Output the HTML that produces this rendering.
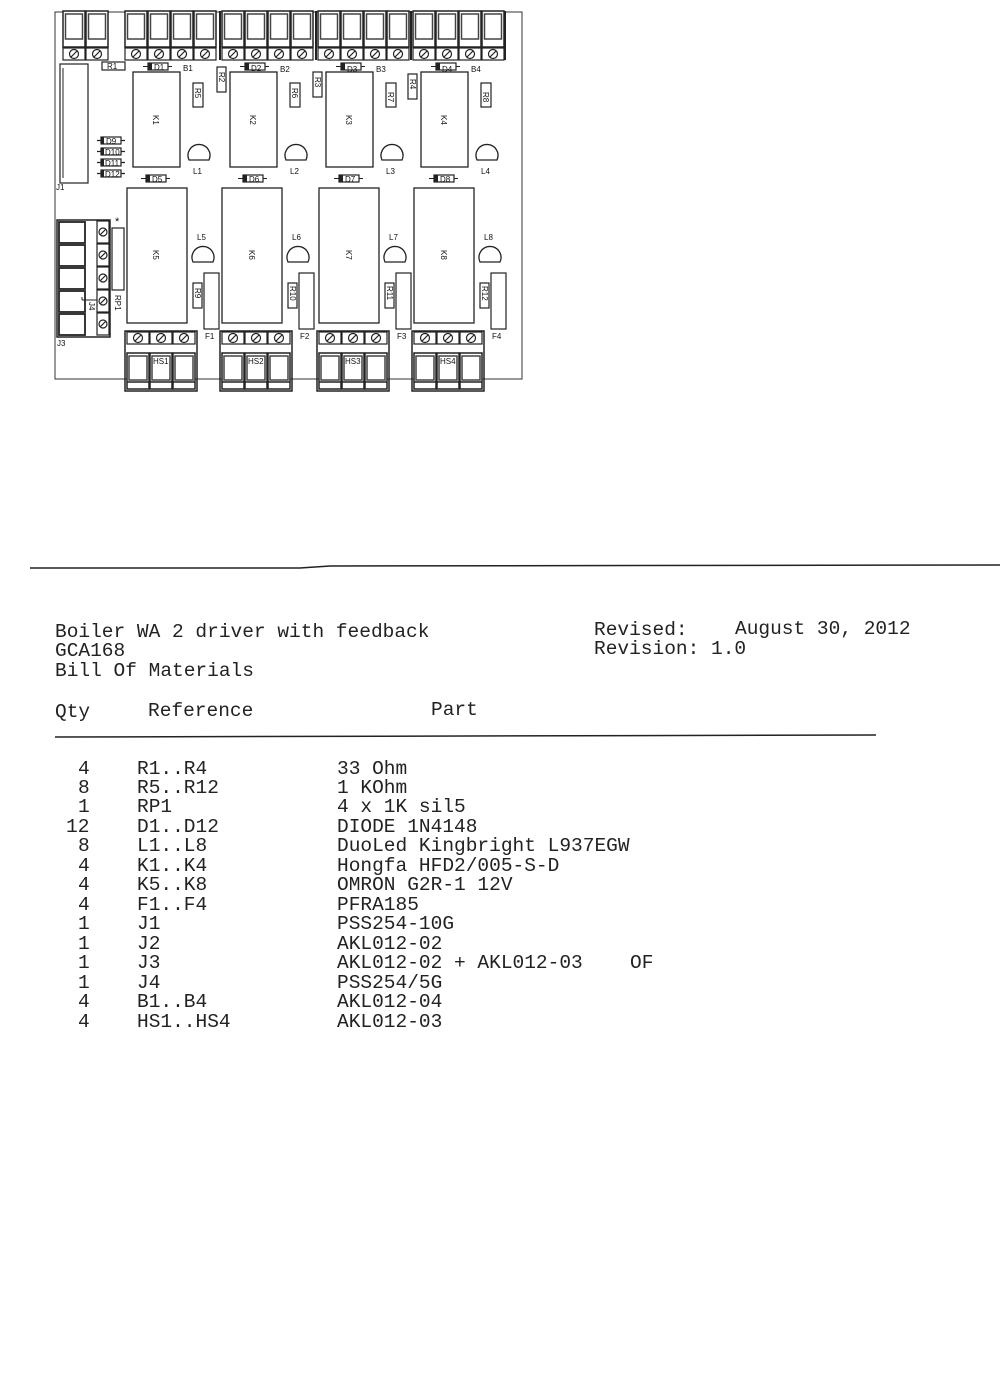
<!DOCTYPE html>
<html><head><meta charset="utf-8"><style>
html,body{margin:0;padding:0;background:#fff}
svg{display:block}
.t{font-family:"Liberation Mono",monospace;font-size:19.5px;fill:#222}
.s{font-family:"Liberation Sans",sans-serif;font-size:8px;fill:#111}
</style></head><body>
<svg width="1000" height="1375" viewBox="0 0 1000 1375" xmlns="http://www.w3.org/2000/svg">
<defs>
<g id="blk"><rect x="0" y="0" width="22" height="36" fill="#fff" stroke="#222" stroke-width="1.5"/><rect x="2.5" y="3" width="17" height="25" fill="#fff" stroke="#444" stroke-width="1.5"/><rect x="0" y="37" width="22" height="12" fill="#fff" stroke="#222" stroke-width="1.2"/><circle cx="11" cy="43" r="4.5" fill="none" stroke="#222" stroke-width="1.2"/><line x1="8" y1="46" x2="14" y2="40" stroke="#222" stroke-width="1.2"/></g>
<g id="scr"><rect x="0" y="0" width="22" height="12" fill="#fff" stroke="#222" stroke-width="1.2"/><circle cx="11" cy="6" r="4.5" fill="none" stroke="#222" stroke-width="1.2"/><line x1="8" y1="9" x2="14" y2="3" stroke="#222" stroke-width="1.2"/></g>
<g id="hsb"><rect x="0" y="0" width="22" height="36" fill="#fff" stroke="#222" stroke-width="1.5"/><rect x="2" y="3" width="18" height="24" fill="#fff" stroke="#444" stroke-width="1.5"/><line x1="0" y1="29" x2="22" y2="29" stroke="#222" stroke-width="1.5"/></g>
<g id="top">
<rect x="133" y="72" width="47" height="95" fill="#fff" stroke="#222" stroke-width="1.3"/>
<rect x="148" y="63" width="20" height="7" fill="#fff" stroke="#222" stroke-width="1.2"/><rect x="148" y="63" width="4" height="7" fill="#222"/><line x1="143" y1="66.5" x2="148" y2="66.5" stroke="#222"/><line x1="168" y1="66.5" x2="172" y2="66.5" stroke="#222"/>
<rect x="193" y="83" width="10" height="24" fill="#fff" stroke="#222" stroke-width="1.2"/>
<path d="M189,160 A11,11 0 1 1 209,160 Z" fill="#fff" stroke="#222" stroke-width="1.3"/>
<rect x="146" y="175" width="20" height="7" fill="#fff" stroke="#222" stroke-width="1.2"/><rect x="146" y="175" width="4" height="7" fill="#222"/><line x1="141" y1="178.5" x2="146" y2="178.5" stroke="#222"/><line x1="166" y1="178.5" x2="170" y2="178.5" stroke="#222"/>
</g>
<g id="bot">
<rect x="127" y="188" width="60" height="135" fill="#fff" stroke="#222" stroke-width="1.3"/>
<path d="M193,262 A11,11 0 1 1 213,262 Z" fill="#fff" stroke="#222" stroke-width="1.3"/>
<rect x="204" y="273" width="15" height="56" fill="#fff" stroke="#222" stroke-width="1.2"/>
<rect x="193" y="283" width="9" height="25" fill="#fff" stroke="#222" stroke-width="1.2"/>
<rect x="125" y="331" width="72" height="60" fill="none" stroke="#222" stroke-width="1.5"/>
<use href="#scr" x="127" y="332"/><use href="#scr" x="150" y="332"/><use href="#scr" x="173" y="332"/>
<use href="#hsb" x="127" y="353"/><use href="#hsb" x="150" y="353"/><use href="#hsb" x="173" y="353"/>
</g>
<g id="js"><rect x="0" y="0" width="12" height="22" fill="#fff" stroke="#222" stroke-width="1.2"/><circle cx="6" cy="11" r="4" fill="none" stroke="#222" stroke-width="1.2"/><line x1="3.5" y1="13.5" x2="8.5" y2="8.5" stroke="#222" stroke-width="1.2"/></g>
</defs>
<rect x="55" y="12" width="467" height="367" fill="none" stroke="#333" stroke-width="1"/>
<g>
<use href="#blk" x="63" y="11"/><use href="#blk" x="86" y="11"/>
<use href="#blk" x="125" y="11"/><use href="#blk" x="148" y="11"/><use href="#blk" x="171" y="11"/><use href="#blk" x="194" y="11"/>
<use href="#blk" x="222" y="11"/><use href="#blk" x="245" y="11"/><use href="#blk" x="268" y="11"/><use href="#blk" x="291" y="11"/>
<use href="#blk" x="318" y="11"/><use href="#blk" x="341" y="11"/><use href="#blk" x="364" y="11"/><use href="#blk" x="387" y="11"/>
<use href="#blk" x="413" y="11"/><use href="#blk" x="436" y="11"/><use href="#blk" x="459" y="11"/><use href="#blk" x="482" y="11"/>
<line x1="220" y1="11" x2="220" y2="60" stroke="#222" stroke-width="2"/><line x1="316" y1="11" x2="316" y2="60" stroke="#222" stroke-width="2"/><line x1="411" y1="11" x2="411" y2="60" stroke="#222" stroke-width="2"/><line x1="505" y1="11" x2="505" y2="60" stroke="#222" stroke-width="2"/>
</g>
<use href="#top"/><use href="#top" x="97"/><use href="#top" x="193"/><use href="#top" x="288"/>
<use href="#bot"/><use href="#bot" x="95"/><use href="#bot" x="192"/><use href="#bot" x="287"/>
<rect x="102" y="62" width="23" height="8" fill="#fff" stroke="#222" stroke-width="1.2"/>
<rect x="217" y="67" width="9" height="25" fill="#fff" stroke="#222" stroke-width="1.2"/>
<rect x="313" y="72" width="9" height="25" fill="#fff" stroke="#222" stroke-width="1.2"/>
<rect x="408" y="74" width="9" height="25" fill="#fff" stroke="#222" stroke-width="1.2"/>
<rect x="60" y="64" width="28" height="119" fill="#fff" stroke="#222" stroke-width="1.2"/><line x1="63" y1="68" x2="63" y2="178" stroke="#222"/>
<g stroke="#222" stroke-width="1.2">
<line x1="97" y1="140.5" x2="125" y2="140.5"/><line x1="97" y1="151.5" x2="125" y2="151.5"/><line x1="97" y1="162.5" x2="125" y2="162.5"/><line x1="97" y1="173.5" x2="125" y2="173.5"/>
</g>
<g fill="#fff" stroke="#222" stroke-width="1.2"><rect x="101" y="137" width="20" height="7"/><rect x="101" y="148" width="20" height="7"/><rect x="101" y="159" width="20" height="7"/><rect x="101" y="170" width="20" height="7"/></g>
<g fill="#222"><rect x="101" y="137" width="3" height="7"/><rect x="101" y="148" width="3" height="7"/><rect x="101" y="159" width="3" height="7"/><rect x="101" y="170" width="3" height="7"/></g>
<rect x="57" y="220" width="53" height="117" fill="none" stroke="#222" stroke-width="1.5"/>
<g fill="#fff" stroke="#222" stroke-width="1.8">
<rect x="59" y="222" width="26" height="21"/><rect x="59" y="245" width="26" height="21"/><rect x="59" y="268" width="26" height="21"/><rect x="59" y="291" width="26" height="21"/><rect x="59" y="314" width="26" height="21"/>
</g>
<use href="#js" x="97" y="221"/><use href="#js" x="97" y="244"/><use href="#js" x="97" y="267"/><use href="#js" x="97" y="290"/><use href="#js" x="97" y="313"/>
<rect x="112" y="228" width="12" height="62" fill="#fff" stroke="#222" stroke-width="1.2"/>
<line x1="82" y1="297" x2="82" y2="300" stroke="#222"/><line x1="82" y1="300" x2="97" y2="300" stroke="#222"/>
<g class="s">
<text x="107" y="69">R1</text><text x="154" y="70">D1</text><text x="183" y="71">B1</text><text x="251" y="71">D2</text><text x="280" y="72">B2</text><text x="347" y="72">D3</text><text x="376" y="72">B3</text><text x="442" y="72">D4</text><text x="471" y="72">B4</text>
<text x="152" y="182">D5</text><text x="249" y="182">D6</text><text x="345" y="182">D7</text><text x="440" y="182">D8</text>
<text x="106" y="144">D9</text><text x="105" y="155">D10</text><text x="105" y="166">D11</text><text x="105" y="177">D12</text>
<text x="193" y="174">L1</text><text x="290" y="174">L2</text><text x="386" y="174">L3</text><text x="481" y="174">L4</text>
<text x="197" y="240">L5</text><text x="292" y="240">L6</text><text x="389" y="240">L7</text><text x="484" y="240">L8</text>
<text x="205" y="339">F1</text><text x="300" y="339">F2</text><text x="397" y="339">F3</text><text x="492" y="339">F4</text>
<text x="153" y="364">HS1</text><text x="248" y="364">HS2</text><text x="345" y="364">HS3</text><text x="440" y="364">HS4</text>
<text x="56" y="190">J1</text><text x="57" y="346">J3</text><text x="115" y="225" font-size="11">*</text>
<text transform="translate(153,115) rotate(90)">K1</text><text transform="translate(250,115) rotate(90)">K2</text><text transform="translate(346,115) rotate(90)">K3</text><text transform="translate(441,115) rotate(90)">K4</text>
<text transform="translate(153,250) rotate(90)">K5</text><text transform="translate(249,250) rotate(90)">K6</text><text transform="translate(346,250) rotate(90)">K7</text><text transform="translate(441,250) rotate(90)">K8</text>
<text transform="translate(195,88) rotate(90)">R5</text><text transform="translate(292,88) rotate(90)">R6</text><text transform="translate(388,92) rotate(90)">R7</text><text transform="translate(483,92) rotate(90)">R8</text>
<text transform="translate(219,72) rotate(90)">R2</text><text transform="translate(315,77) rotate(90)">R3</text><text transform="translate(410,79) rotate(90)">R4</text>
<text transform="translate(195,288) rotate(90)">R9</text><text transform="translate(290,286) rotate(90)">R10</text><text transform="translate(387,286) rotate(90)">R11</text><text transform="translate(482,286) rotate(90)">R12</text>
<text transform="translate(115,295) rotate(90)">RP1</text><text transform="translate(89,302) rotate(90)">J4</text>
</g>
<path d="M30,568 L300,568 L330,566 L1000,565" fill="none" stroke="#222" stroke-width="1.5"/>
<g class="t">
<text x="55" y="637">Boiler WA 2 driver with feedback</text>
<text x="55" y="656">GCA168</text>
<text x="55" y="676">Bill Of Materials</text>
<text x="594" y="635">Revised:</text><text x="735" y="634">August 30, 2012</text>
<text x="594" y="654">Revision: 1.0</text>
<text x="55" y="717">Qty</text><text x="148" y="716">Reference</text><text x="431" y="715">Part</text>
</g>
<line x1="55" y1="737" x2="876" y2="735" stroke="#222" stroke-width="1.5"/>
<g class="t">
<text x="78" y="774">4</text><text x="137" y="774">R1..R4</text><text x="337" y="774">33 Ohm</text>
<text x="78" y="793">8</text><text x="137" y="793">R5..R12</text><text x="337" y="793">1 KOhm</text>
<text x="78" y="812">1</text><text x="137" y="812">RP1</text><text x="337" y="812">4 x 1K sil5</text>
<text x="66" y="832">12</text><text x="137" y="832">D1..D12</text><text x="337" y="832">DIODE 1N4148</text>
<text x="78" y="851">8</text><text x="137" y="851">L1..L8</text><text x="337" y="851">DuoLed Kingbright L937EGW</text>
<text x="78" y="871">4</text><text x="137" y="871">K1..K4</text><text x="337" y="871">Hongfa HFD2/005-S-D</text>
<text x="78" y="890">4</text><text x="137" y="890">K5..K8</text><text x="337" y="890">OMRON G2R-1 12V</text>
<text x="78" y="910">4</text><text x="137" y="910">F1..F4</text><text x="337" y="910">PFRA185</text>
<text x="78" y="929">1</text><text x="137" y="929">J1</text><text x="337" y="929">PSS254-10G</text>
<text x="78" y="949">1</text><text x="137" y="949">J2</text><text x="337" y="949">AKL012-02</text>
<text x="78" y="968">1</text><text x="137" y="968">J3</text><text x="337" y="968">AKL012-02 + AKL012-03</text><text x="630" y="968">OF</text>
<text x="78" y="988">1</text><text x="137" y="988">J4</text><text x="337" y="988">PSS254/5G</text>
<text x="78" y="1007">4</text><text x="137" y="1007">B1..B4</text><text x="337" y="1007">AKL012-04</text>
<text x="78" y="1027">4</text><text x="137" y="1027">HS1..HS4</text><text x="337" y="1027">AKL012-03</text>
</g>
</svg>
</body></html>
